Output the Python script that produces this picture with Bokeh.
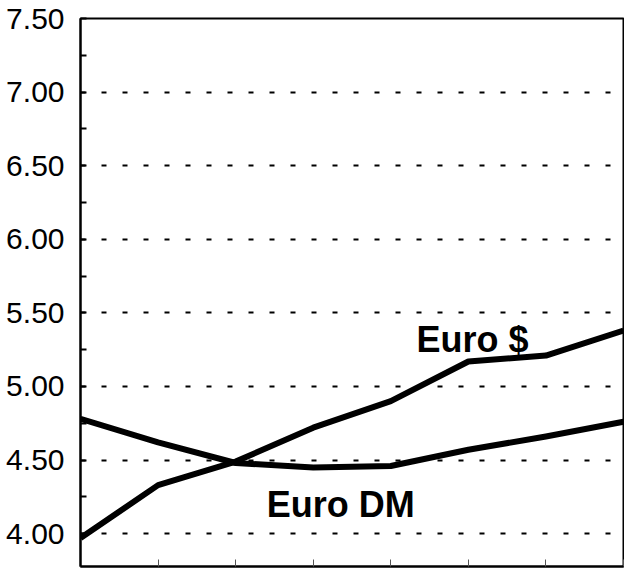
from bokeh.plotting import figure
from bokeh.models import Range1d, FixedTicker, Label, NumeralTickFormatter
from bokeh.embed import file_html
from bokeh.resources import INLINE

periods = [0, 1, 2, 3, 4, 5, 6, 7]
euro_dm = [4.78, 4.62, 4.48, 4.45, 4.46, 4.57, 4.66, 4.76]
euro_usd = [3.97, 4.33, 4.49, 4.72, 4.90, 5.17, 5.21, 5.38]
y_ticks = [4.0, 4.5, 5.0, 5.5, 6.0, 6.5, 7.0, 7.5]
y_minor = [4.25, 4.75, 5.25, 5.75, 6.25, 6.75, 7.25]
series_labels = ["Euro DM", "Euro $"]

p = figure(width=624, height=570, output_backend="svg", toolbar_location=None,
           x_range=Range1d(0, 7), y_range=Range1d(3.777, 7.5),
           min_border_left=80, min_border_top=18, min_border_right=1, min_border_bottom=4)

p.background_fill_color = "white"
p.border_fill_color = "white"
p.outline_line_color = "black"
p.outline_line_width = 2

p.line(periods, euro_dm, line_color="black", line_width=6, line_join="round")
p.line(periods, euro_usd, line_color="black", line_width=6, line_join="round")

# y axis
p.yaxis.ticker = FixedTicker(ticks=y_ticks, minor_ticks=y_minor)
p.yaxis.formatter = NumeralTickFormatter(format="0.00")
p.yaxis.major_label_text_font = "Liberation Sans"
p.yaxis.major_label_text_font_size = "30px"
p.yaxis.major_label_text_color = "black"
p.yaxis.major_label_standoff = 16
p.yaxis.axis_line_color = "black"
p.yaxis.axis_line_width = 2
p.yaxis.major_tick_in = 6
p.yaxis.major_tick_out = 0
p.yaxis.minor_tick_in = 6
p.yaxis.minor_tick_out = 0
p.yaxis.major_tick_line_color = "black"
p.yaxis.minor_tick_line_color = "black"
p.yaxis.major_tick_line_width = 2
p.yaxis.minor_tick_line_width = 2

# x axis: ticks only
p.xaxis.ticker = FixedTicker(ticks=periods, minor_ticks=[])
p.xaxis.major_label_overrides = {t: "" for t in periods}
p.xaxis.major_label_standoff = 0
p.xaxis.axis_line_color = "black"
p.xaxis.axis_line_width = 2
p.xaxis.major_tick_in = 7
p.xaxis.major_tick_out = 0
p.xaxis.major_tick_line_color = "#555555"
p.xaxis.major_tick_line_width = 1

# grid
p.xgrid.grid_line_color = None
p.ygrid.grid_line_color = "black"
p.ygrid.grid_line_width = 2
p.ygrid.grid_line_dash = "5 16"

p.add_layout(Label(x=2.40, y=4.197, text=series_labels[0], text_font="Liberation Sans",
                   text_font_style="bold", text_font_size="36px", text_color="black",
                   text_baseline="alphabetic"))
p.add_layout(Label(x=4.33, y=5.32, text=series_labels[1], text_font="Liberation Sans",
                   text_font_style="bold", text_font_size="36px", text_color="black",
                   text_baseline="alphabetic"))

open("out.html", "w").write(file_html(p, INLINE))
